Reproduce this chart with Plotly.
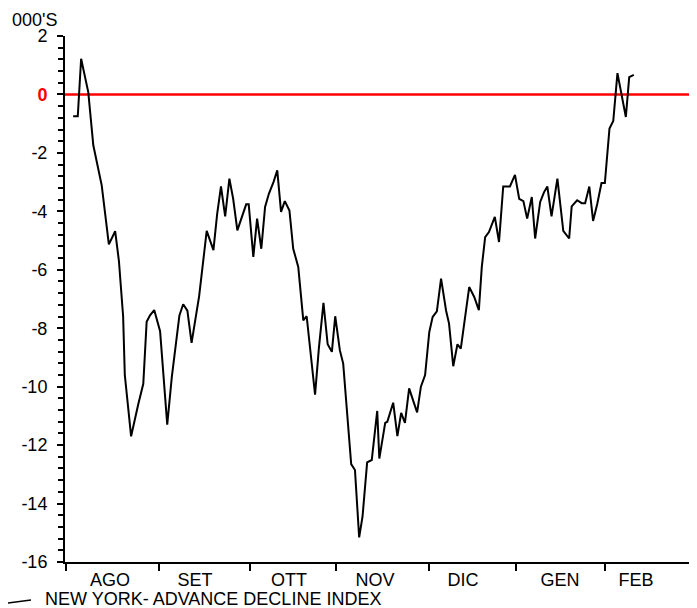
import plotly.graph_objects as go

# ---- data (x in trading-session units, y in thousands) ----
sessions = [1.7, 2.8, 3.6, 5.3, 6.5, 8.5, 10.2, 11.7, 12.6, 13.6, 14.0, 15.5, 17.2, 18.4,
            19.2, 20.0, 21.0, 22.4, 24.1, 25.2, 27.0, 27.9, 28.9, 29.9, 31.7, 33.5, 35.1,
            36.0, 36.9, 37.9, 38.9, 39.8, 40.8, 41.9, 42.9, 43.5, 44.6, 45.5, 46.5, 47.4,
            48.3, 49.4, 50.3, 51.2, 52.1, 53.2, 54.1, 55.3, 56.5, 57.3, 58.3, 59.3, 60.2,
            61.3, 62.3, 63.3, 64.1, 65.2, 66.0, 66.9, 67.9, 68.8, 69.8, 70.6, 71.7, 72.8,
            74.1, 74.6, 76.0, 76.5, 77.9, 78.9, 79.8, 80.7, 81.7, 82.6, 83.6, 84.5, 85.5,
            86.5, 87.3, 88.3, 89.3, 90.5, 91.2, 92.2, 93.2, 94.0, 95.0, 96.0, 97.2, 98.3,
            99.0, 99.8, 100.7, 102.1, 103.1, 104.1, 104.9, 105.7, 106.9, 107.9, 108.9,
            109.8, 110.9, 111.7, 112.9, 113.8, 114.6, 115.6, 117.0, 118.4, 119.8, 120.4,
            121.7, 122.8, 123.6, 124.6, 125.5, 126.5, 127.5, 128.3, 129.4, 130.3, 131.3,
            132.3, 133.3, 134.1, 135.2]
ad_index = [-0.75, -0.75, 1.22, 0.08, -1.74, -3.11, -5.13, -4.68, -5.7, -7.6, -9.6, -11.7,
            -10.6, -9.9, -7.78, -7.56, -7.38, -8.1, -11.3, -9.66, -7.56, -7.18, -7.4, -8.5,
            -6.9, -4.67, -5.33, -4.08, -3.15, -4.17, -2.88, -3.57, -4.65, -4.15, -3.76,
            -3.76, -5.56, -4.25, -5.28, -3.85, -3.4, -3.0, -2.6, -4.02, -3.65, -3.97, -5.28,
            -5.9, -7.73, -7.59, -8.9, -10.27, -8.7, -7.13, -8.55, -8.81, -7.59, -8.75,
            -9.21, -10.9, -12.65, -12.85, -15.16, -14.45, -12.59, -12.51, -10.83, -12.46,
            -11.24, -11.2, -10.55, -11.69, -10.9, -11.24, -10.06, -10.45, -10.88, -10.0,
            -9.6, -8.13, -7.61, -7.42, -6.3, -7.4, -7.84, -9.3, -8.55, -8.7, -7.6, -6.59,
            -6.93, -7.38, -5.9, -4.88, -4.71, -4.19, -5.05, -3.15, -3.15, -3.15, -2.75,
            -3.57, -3.65, -4.25, -3.51, -4.93, -3.68, -3.35, -3.15, -4.17, -2.88, -4.67,
            -4.93, -3.83, -3.62, -3.72, -3.72, -3.15, -4.33, -3.74, -3.03, -3.03, -1.17,
            -0.91, 0.73, -0.02, -0.77, 0.59, 0.67]

month_labels = ["AGO", "SET", "OTT", "NOV", "DIC", "GEN", "FEB"]
month_label_pos = [10.5, 30.7, 53.1, 73.6, 94.5, 117.6, 135.7]
month_bounds = [0, 22.1, 43.8, 64.3, 86.4, 107.1, 128.3, 150]

y_ticks = [2, 0, -2, -4, -6, -8, -10, -12, -14, -16]
y_ticktext = ["2", '<span style="color:#ff0000"><b>0</b></span>', "-2", "-4", "-6",
              "-8", "-10", "-12", "-14", "-16"]

series_name = "NEW YORK- ADVANCE DECLINE INDEX"
unit_label = "000'S"

FONT = "Arial, 'Liberation Sans', sans-serif"

# the page body keeps its default 8px margin, so the figure is sized to fit the window
OFF = 8
W, H = 697 - OFF, 608 - OFF
ML, MR, MT, MB = 65 - OFF, 0, 36 - OFF, 46
PW, PH = W - ML - MR, H - MT - MB


def px_x(p):  # page pixel -> paper coordinate
    return (max(p, OFF) - OFF - ML) / PW


def px_y(p):
    return (H - MB - (p - OFF)) / PH


fig = go.Figure()
fig.add_trace(go.Scatter(
    x=sessions, y=ad_index, mode="lines", name=series_name,
    line=dict(color="black", width=2), showlegend=False,
))

# zero reference line
fig.add_hline(y=0, line=dict(color="#ff0000", width=2.5), layer="below")

# legend key (drawn manually below the axis)
fig.add_shape(type="line", xref="paper", yref="paper",
              x0=px_x(8), x1=px_x(31), y0=px_y(603), y1=px_y(600),
              line=dict(color="black", width=1.5))

fig.update_layout(
    width=W, height=H,
    margin=dict(l=ML, r=MR, t=MT, b=MB, autoexpand=False),
    paper_bgcolor="white", plot_bgcolor="white",
    font=dict(family=FONT, size=18, color="black"),
    showlegend=False,
    xaxis=dict(
        range=[-0.24, 150.24], showgrid=False, zeroline=False,
        showline=True, linecolor="black", linewidth=2,
        tickmode="array", tickvals=month_label_pos, ticktext=month_labels,
        ticks="", ticklen=0, tickfont=dict(size=18), ticklabelstandoff=0,
        minor=dict(tickmode="array", tickvals=month_bounds, ticks="outside",
                   ticklen=7, tickwidth=2, tickcolor="black", showgrid=False),
    ),
    yaxis=dict(
        range=[-16, 2], showgrid=False, zeroline=False,
        showline=True, linecolor="black", linewidth=2,
        tickmode="array", tickvals=y_ticks, ticktext=y_ticktext,
        ticks="outside", ticklen=6, tickwidth=2, tickcolor="black",
        ticklabelstandoff=6, tickfont=dict(size=18),
        minor=dict(dtick=0.4, tick0=0, ticks="outside", ticklen=5, tickwidth=2,
                   tickcolor="black", showgrid=False),
    ),
    annotations=[
        dict(text=unit_label, xref="paper", yref="paper", x=px_x(10), y=px_y(8),
             xanchor="left", yanchor="top", showarrow=False,
             font=dict(size=18, family=FONT)),
        dict(text=series_name, xref="paper", yref="paper", x=px_x(43), y=px_y(599),
             xanchor="left", yanchor="middle", showarrow=False,
             font=dict(size=18, family=FONT)),
    ],
)

fig.write_html("out.html")
